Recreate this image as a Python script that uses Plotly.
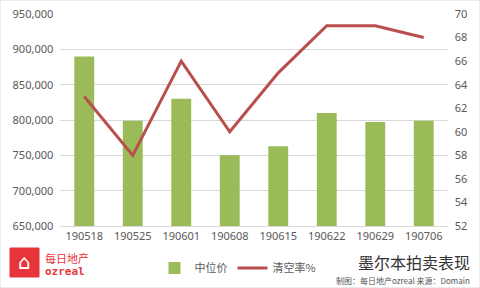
import plotly.graph_objects as go

categories = ["190518", "190525", "190601", "190608", "190615", "190622", "190629", "190706"]
median_price = [890000, 799000, 830000, 750000, 763000, 810000, 797000, 799000]
clearance_rate = [63, 58, 66, 60, 65, 69, 69, 68]

FONT = "Noto Sans, Noto Sans CJK SC, sans-serif"
CJK = "Noto Sans CJK SC, sans-serif"

fig = go.Figure()
fig.add_trace(go.Bar(x=categories, y=median_price, name="中位价",
                     marker=dict(color="#9BBB59", line=dict(width=0)), yaxis="y"))
fig.add_trace(go.Scatter(x=categories, y=clearance_rate, name="清空率%", mode="lines",
                         line=dict(color="#B84F4C", width=3), yaxis="y2"))

fig.update_layout(
    width=480, height=288,
    margin=dict(l=60, r=32, t=14, b=62, autoexpand=False),
    paper_bgcolor="white", plot_bgcolor="white",
    font=dict(family=FONT, size=11, color="#595959"),
    bargap=0.59,
    showlegend=True,
    legend=dict(orientation="h", x=(238-60)/388, xanchor="center",
                y=(226-268)/212, yanchor="middle",
                font=dict(family=CJK, size=11, color="#595959"),
                itemwidth=30, bgcolor="rgba(0,0,0,0)"),
    xaxis=dict(type="category", showgrid=False, showline=True, linecolor="#d9d9d9",
               ticks="", tickfont=dict(size=11), fixedrange=True),
    yaxis=dict(range=[650000, 950000], dtick=50000, tickformat=",", showgrid=True,
               gridcolor="#d9d9d9", gridwidth=1, zeroline=False, showline=False,
               ticks="", ticksuffix="  "),
    yaxis2=dict(range=[52, 70], dtick=2, overlaying="y", side="right", showgrid=False,
                zeroline=False, showline=False, ticks="", tickprefix="  "),
    shapes=[
        dict(type="rect", xref="paper", yref="paper", x0=-60/388, x1=1+32/388,
             y0=-62/212, y1=1+14/212, line=dict(color="#d9d9d9", width=1)),
        dict(type="path", xref="paper", yref="paper",
             path="M {a},{b} L {c},{b} L {c},{d} L {a},{d} Z".format(
                 a=(10-60)/388, c=(39-60)/388, b=(226-277)/212, d=(226-248)/212),
             fillcolor="#E8343B", line=dict(color="#E8343B", width=1)),
    ],
    annotations=[
        dict(text="墨尔本拍卖表现", xref="paper", yref="paper", x=(414-60)/388,
             y=(226-262)/212, xanchor="center", yanchor="middle", showarrow=False,
             font=dict(family=CJK, size=16, color="#333333")),
        dict(text="制图：每日地产ozreal 来源：Domain", xref="paper", yref="paper",
             x=(472-60)/388, y=(226-280)/212, xanchor="right", yanchor="middle",
             showarrow=False, font=dict(family=CJK, size=8, color="#555555")),
        dict(text="每日地产", xref="paper", yref="paper", x=(43-60)/388,
             y=(226-258)/212, xanchor="left", yanchor="middle", showarrow=False,
             font=dict(family=CJK, size=11, color="#E8343B")),
        dict(text="<b>ozreal</b>", xref="paper", yref="paper", x=(43-60)/388,
             y=(226-271)/212, xanchor="left", yanchor="middle", showarrow=False,
             font=dict(family="DejaVu Sans Mono, monospace", size=11, color="#E8343B")),
        dict(text="⌂", xref="paper", yref="paper", x=(24.5-60)/388,
             y=(226-262)/212, xanchor="center", yanchor="middle", showarrow=False,
             font=dict(family="DejaVu Sans", size=20, color="white")),
    ],
)

fig.write_html("out.html")
